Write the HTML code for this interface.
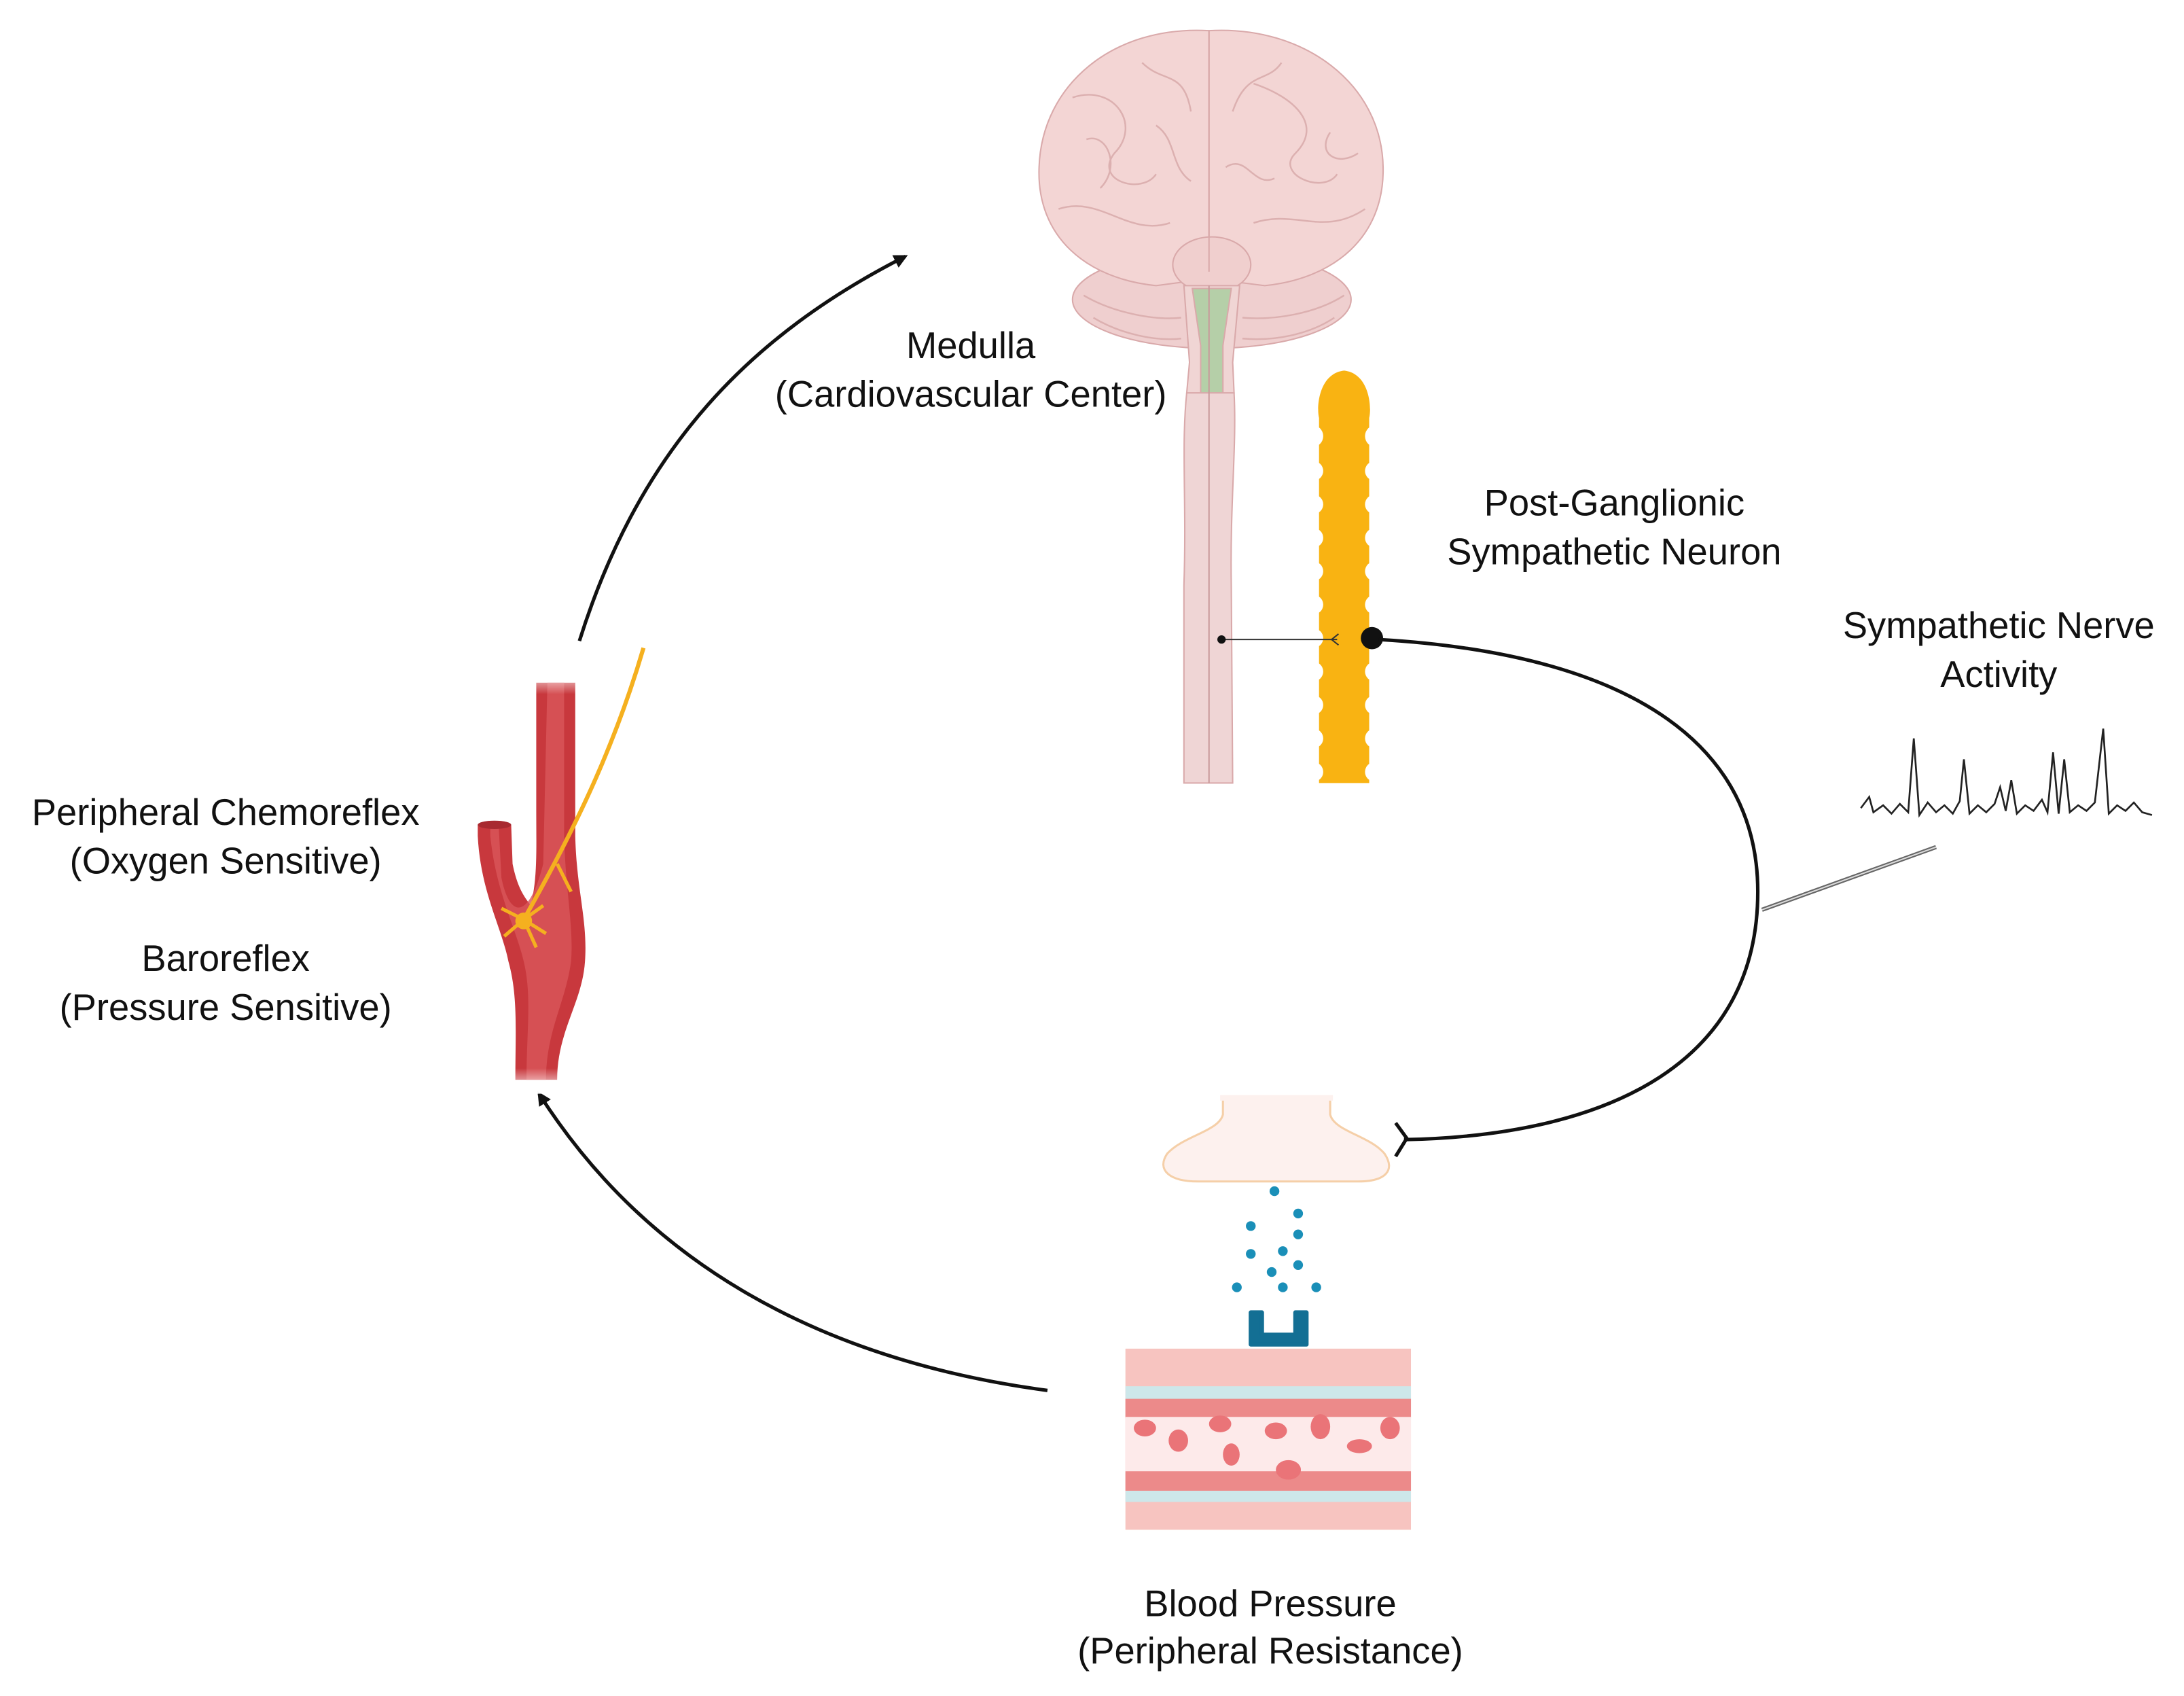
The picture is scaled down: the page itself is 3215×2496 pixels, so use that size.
<!DOCTYPE html>
<html><head><meta charset="utf-8"><style>
html,body{margin:0;padding:0;background:#fff;}
svg{display:block;}
text{font-family:"Liberation Sans",sans-serif;font-size:26.5px;fill:#111;text-anchor:middle;}
</style></head><body>
<svg width="3215" height="2496" viewBox="0 0 1568 1217.3" xmlns="http://www.w3.org/2000/svg">
<defs>
<marker id="ah" markerWidth="10" markerHeight="10" refX="8" refY="5" orient="auto" markerUnits="userSpaceOnUse" viewBox="0 0 10 10">
<path d="M0,0 L10,5 L0,10 z" fill="#111"/></marker>
<linearGradient id="vfade" x1="0" y1="0" x2="0" y2="1">
<stop offset="0" stop-color="#fff" stop-opacity="1"/><stop offset="0.06" stop-color="#fff" stop-opacity="0"/>
<stop offset="0.94" stop-color="#fff" stop-opacity="0"/><stop offset="1" stop-color="#fff" stop-opacity="1"/></linearGradient>
</defs>

<!-- Brain -->
<g stroke="#d9a9aa" stroke-width="1">
<ellipse cx="870" cy="215" rx="100" ry="35" fill="#efcfcf"/>
<path d="M868,22 C800,18 748,60 746,120 C744,170 780,200 830,205 L868,200 Z" fill="#f3d5d4"/>
<path d="M868,22 C936,18 992,60 993,120 C994,170 958,200 908,205 L868,200 Z" fill="#f3d5d4"/>
<ellipse cx="870" cy="190" rx="28" ry="20" fill="#f0cfce"/>
<path d="M850,205 L890,205 L885,260 L886,282 L852,282 L854,260 Z" fill="#f0d5d4"/>
<path d="M856,207 L884,207 L878,248 L878,282 L862,282 L862,248 Z" fill="#b5cfa8"/>
<path d="M852,282 L886,282 C888,320 883,360 884,420 L885,562 L850,562 L850,420 C852,360 848,320 852,282 Z" fill="#efd5d5"/>
<line x1="868" y1="205" x2="868" y2="562" stroke="#c99a9b"/>
<line x1="868" y1="22" x2="868" y2="195" stroke="#d9a9aa"/>
</g>
<g fill="none" stroke="#dcb0b0" stroke-width="1.2">
<path d="M770,70 C800,60 820,90 800,110 C785,130 820,140 830,125"/>
<path d="M760,150 C790,140 810,170 840,160"/>
<path d="M900,60 C930,70 950,90 930,110 C915,125 950,140 960,125"/>
<path d="M900,160 C930,150 950,170 980,150"/>
<path d="M820,45 C835,60 850,50 855,80"/>
<path d="M885,80 C895,50 910,60 920,45"/>
<path d="M780,100 C795,95 805,120 790,135"/>
<path d="M955,95 C945,110 960,120 975,110"/>
<path d="M830,90 C845,100 840,120 855,130"/>
<path d="M880,120 C895,110 900,135 915,128"/>
<path d="M778,212 C800,225 830,230 848,228 M892,228 C915,230 945,225 965,212"/>
<path d="M785,228 C805,240 830,245 848,243 M892,243 C915,245 940,240 958,228"/>
</g>

<!-- Yellow neuron -->
<path d="M947,562 L947,300 C945,292 947,268 965,266 C983,268 985,292 983,300 L983,562 Z" fill="#f9b312"/>
<g fill="#fff">
<circle cx="942" cy="313" r="8"/><circle cx="988" cy="313" r="8"/>
<circle cx="943" cy="338" r="7"/><circle cx="987" cy="338" r="7"/>
<circle cx="943" cy="362" r="7"/><circle cx="987" cy="362" r="7"/>
<circle cx="943" cy="386" r="7"/><circle cx="987" cy="386" r="7"/>
<circle cx="943" cy="410" r="7"/><circle cx="987" cy="410" r="7"/>
<circle cx="943" cy="434" r="7"/><circle cx="987" cy="434" r="7"/>
<circle cx="943" cy="482" r="7"/><circle cx="987" cy="482" r="7"/>
<circle cx="943" cy="506" r="7"/><circle cx="987" cy="506" r="7"/>
<circle cx="943" cy="530" r="7"/><circle cx="987" cy="530" r="7"/>
<circle cx="943" cy="554" r="7"/><circle cx="987" cy="554" r="7"/>
<circle cx="943" cy="458" r="7"/>
</g>
<line x1="877" y1="459" x2="960" y2="459" stroke="#333" stroke-width="1"/>
<circle cx="877" cy="459" r="3" fill="#111"/>
<path d="M961,455 L956,459 L961,463" fill="none" stroke="#333" stroke-width="1"/>

<!-- Efferent curve -->
<circle cx="985" cy="458" r="8" fill="#111"/>
<path d="M990,459 C1180,470 1262,540 1262,640 C1262,760 1160,815 1008,818" fill="none" stroke="#111" stroke-width="2.5"/>
<path d="M1002,806 L1010,817 L1002,830" fill="none" stroke="#111" stroke-width="2.5"/>

<!-- Electrode & trace -->
<path d="M1265,653 L1390,608" stroke="#666" stroke-width="3"/>
<path d="M1265,653 L1390,608" stroke="#ddd" stroke-width="1"/>
<path d="M1336,580 L1342,572 L1345,583 L1352,578 L1358,584 L1364,577 L1370,583 L1374,530 L1378,585 L1384,576 L1390,583 L1396,578 L1402,584 L1407,575 L1410,545 L1414,584 L1420,578 L1426,583 L1432,577 L1436,565 L1440,582 L1444,560 L1448,584 L1454,578 L1460,582 L1466,574 L1470,583 L1474,540 L1478,584 L1482,545 L1486,583 L1492,578 L1498,582 L1504,576 L1510,523 L1514,584 L1520,578 L1526,582 L1532,576 L1538,583 L1545,585" fill="none" stroke="#222" stroke-width="1.3"/>

<!-- Arrows -->
<path d="M416,460 C460,320 540,240 650,184" fill="none" stroke="#111" stroke-width="2.5" marker-end="url(#ah)"/>
<path d="M752,998 C580,975 460,900 387,785" fill="none" stroke="#111" stroke-width="2.5" marker-end="url(#ah)"/>

<!-- Carotid vessel -->
<path d="M385,490 L413,490 L413,600 C414,640 422,660 420,690 C418,720 400,740 400,775 L370,775 C370,740 372,715 365,690 C360,665 345,640 343,600 L343,592 L367,592 L368,620 C372,640 378,645 381,650 C386,630 385,610 385,580 Z" fill="#c8383d"/>
<path d="M393,490 L405,490 L405,600 C406,640 412,665 410,690 C406,720 392,740 392,775 L378,775 C378,740 382,715 376,690 C370,665 356,640 352,600 L352,592 L358,592 L360,630 C366,660 380,660 390,620 Z" fill="#d9565a" opacity="0.8"/>
<ellipse cx="355" cy="592" rx="12" ry="3" fill="#a82a30"/>
<rect x="330" y="480" width="100" height="305" fill="url(#vfade)"/>
<path d="M462,465 C440,540 410,600 376,660" fill="none" stroke="#f5b01f" stroke-width="3"/>
<path d="M400,620 L410,640 M376,660 L360,652 M376,660 L390,650 M376,660 L362,672 M376,660 L385,680 M376,660 L392,670" stroke="#f5b01f" stroke-width="2.5" fill="none"/>
<circle cx="376" cy="661" r="6" fill="#f5b01f"/>

<!-- Synaptic terminal -->
<path d="M878,788 L878,800 C875,812 850,815 838,828 C830,840 840,848 860,848 L975,848 C995,848 1002,840 994,828 C983,815 958,812 955,800 L955,788 Z" fill="#fdf1ee" stroke="#f5cfa8" stroke-width="1.5"/>
<rect x="876" y="786" width="81" height="4" fill="#fdf1ee"/>
<g fill="#1a8fb8">
<circle cx="915" cy="855" r="3.5"/><circle cx="932" cy="871" r="3.5"/><circle cx="898" cy="880" r="3.5"/>
<circle cx="932" cy="886" r="3.5"/><circle cx="898" cy="900" r="3.5"/><circle cx="921" cy="898" r="3.5"/>
<circle cx="932" cy="908" r="3.5"/><circle cx="913" cy="913" r="3.5"/><circle cx="888" cy="924" r="3.5"/>
<circle cx="921" cy="924" r="3.5"/><circle cx="945" cy="924" r="3.5"/>
</g>
<path d="M898,942 L906,942 L906,958 L930,958 L930,942 L938,942 L938,965 L898,965 Z" fill="#136f94" stroke="#136f94" stroke-width="3" stroke-linejoin="round"/>

<!-- Vessel tissue -->
<rect x="808" y="968" width="205" height="130" fill="#f7c4c0"/>
<rect x="808" y="995" width="205" height="10" fill="#cde7ea"/>
<rect x="808" y="1004" width="205" height="14" fill="#ec8a8a"/>
<rect x="808" y="1017" width="205" height="40" fill="#fdeaea"/>
<rect x="808" y="1056" width="205" height="14" fill="#ec8a8a"/>
<rect x="808" y="1070" width="205" height="8" fill="#cde7ea"/>
<g fill="#ea7478">
<ellipse cx="822" cy="1025" rx="8" ry="6"/><ellipse cx="846" cy="1034" rx="7" ry="8"/><ellipse cx="876" cy="1022" rx="8" ry="6"/>
<ellipse cx="884" cy="1044" rx="6" ry="8"/><ellipse cx="916" cy="1027" rx="8" ry="6"/><ellipse cx="948" cy="1024" rx="7" ry="9"/>
<ellipse cx="976" cy="1038" rx="9" ry="5"/><ellipse cx="998" cy="1025" rx="7" ry="8"/><ellipse cx="925" cy="1055" rx="9" ry="7"/>
</g>

<!-- Labels -->
<text x="697" y="257">Medulla</text>
<text x="697" y="292">(Cardiovascular Center)</text>
<text x="1159" y="370">Post-Ganglionic</text>
<text x="1159" y="405">Sympathetic Neuron</text>
<text x="1435" y="458">Sympathetic Nerve</text>
<text x="1435" y="493">Activity</text>
<text x="162" y="592">Peripheral Chemoreflex</text>
<text x="162" y="627">(Oxygen Sensitive)</text>
<text x="162" y="697">Baroreflex</text>
<text x="162" y="732">(Pressure Sensitive)</text>
<text x="912" y="1160">Blood Pressure</text>
<text x="912" y="1194">(Peripheral Resistance)</text>
</svg>
</body></html>
